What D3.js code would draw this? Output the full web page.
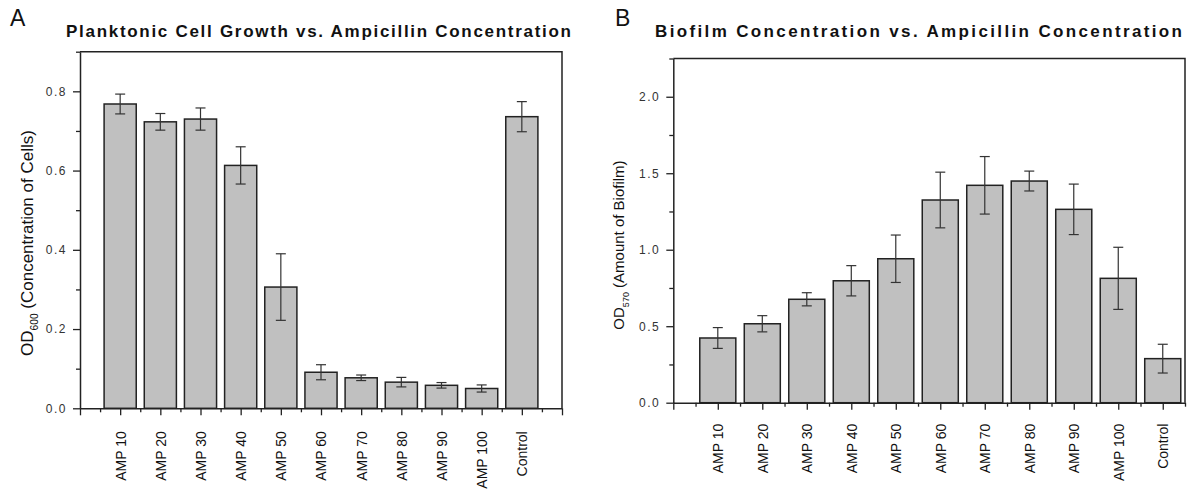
<!DOCTYPE html>
<html>
<head>
<meta charset="utf-8">
<script src="https://cdn.jsdelivr.net/npm/d3@7"></script>
<style>
  body { margin: 0; background: #fff; }
  svg { display: block; font-family: "Liberation Sans", Arial, sans-serif; }
</style>
</head>
<body>
<div id="chart"></div>
<script>
// data
const categories = ["AMP 10", "AMP 20", "AMP 30", "AMP 40", "AMP 50", "AMP 60", "AMP 70", "AMP 80", "AMP 90", "AMP 100", "Control"];
const planktonicMeans = [0.768, 0.723, 0.730, 0.613, 0.306, 0.091, 0.077, 0.066, 0.058, 0.050, 0.736];
const planktonicErr = [0.025, 0.021, 0.028, 0.047, 0.084, 0.019, 0.007, 0.012, 0.007, 0.009, 0.038];
const biofilmMeans = [0.423, 0.516, 0.676, 0.797, 0.941, 1.325, 1.421, 1.449, 1.264, 0.813, 0.288];
const biofilmErr = [0.068, 0.053, 0.043, 0.099, 0.155, 0.182, 0.188, 0.065, 0.165, 0.203, 0.094];
const yTicksA = [0, 0.2, 0.4, 0.6, 0.8];
const yTicksB = [0, 0.5, 1.0, 1.5, 2.0];

const svg = d3.select("#chart").append("svg")
    .attr("width", 1196)
    .attr("height", 489);

function drawPanel(cfg) {
    const x = d3.scaleLinear().domain([0, cfg.xMax]).range([cfg.left, cfg.right]);
    const y = d3.scaleLinear().domain([0, cfg.yMax]).range([cfg.bottom, cfg.top]);
    const g = svg.append("g");

    // panel letter + title
    svg.append("text")
        .attr("x", cfg.letterX).attr("y", 26)
        .attr("font-size", 23)
        .attr("fill", "#111")
        .text(cfg.letter);

    svg.append("text")
        .attr("x", cfg.titleX).attr("y", 37)
        .attr("font-size", 17)
        .attr("font-weight", "bold")
        .attr("fill", "#111")
        .attr("textLength", cfg.titleW)
        .attr("lengthAdjust", "spacing")
        .text(cfg.title);

    const data = cfg.means.map((m, i) => ({ cat: categories[i], pos: i + 1, mean: m, err: cfg.errs[i] }));
    const bw = x(cfg.barFrac) - x(0);

    g.selectAll("rect.bar")
        .data(data)
        .enter().append("rect")
        .attr("class", "bar")
        .attr("x", d => x(d.pos) - bw / 2)
        .attr("y", d => y(d.mean))
        .attr("width", bw)
        .attr("height", d => y(0) - y(d.mean))
        .attr("fill", "#c0c0c0")
        .attr("stroke", "#222")
        .attr("stroke-width", 1.5);

    // error bars
    const eb = g.selectAll("g.err").data(data).enter().append("g").attr("class", "err")
        .attr("stroke", "#333").attr("stroke-width", 1.2);
    eb.append("line")
        .attr("x1", d => x(d.pos)).attr("x2", d => x(d.pos))
        .attr("y1", d => y(d.mean + d.err)).attr("y2", d => y(d.mean - d.err));
    eb.append("line")
        .attr("x1", d => x(d.pos) - cfg.cap).attr("x2", d => x(d.pos) + cfg.cap)
        .attr("y1", d => y(d.mean + d.err)).attr("y2", d => y(d.mean + d.err));
    eb.append("line")
        .attr("x1", d => x(d.pos) - cfg.cap).attr("x2", d => x(d.pos) + cfg.cap)
        .attr("y1", d => y(d.mean - d.err)).attr("y2", d => y(d.mean - d.err));

    // frame (top + right)
    g.append("path")
        .attr("d", `M${cfg.left},${cfg.top}H${cfg.right}V${cfg.bottom}`)
        .attr("fill", "none").attr("stroke", "#222").attr("stroke-width", 1.5);

    // x axis: minor + major ticks
    const xMinor = d3.range(0.5, cfg.xMax + 0.01, 1);
    const xMajor = d3.range(0, Math.floor(cfg.xMax) + 0.01, 1);

    g.append("g")
        .attr("transform", `translate(0,${cfg.bottom})`)
        .call(d3.axisBottom(x).tickValues(xMinor).tickSize(4).tickFormat(""))
        .call(a => a.select(".domain").remove())
        .call(a => a.selectAll("line").attr("stroke", "#222").attr("stroke-width", 1.3));

    const xAxis = g.append("g")
        .attr("transform", `translate(0,${cfg.bottom})`)
        .call(d3.axisBottom(x).tickValues(xMajor).tickSize(7).tickSizeOuter(0)
            .tickFormat(v => (v >= 1 && v <= categories.length) ? categories[v - 1] : ""));
    xAxis.select(".domain").attr("stroke", "#222").attr("stroke-width", 1.5);
    xAxis.selectAll("line").attr("stroke", "#222").attr("stroke-width", 1.3);
    xAxis.selectAll("text")
        .attr("transform", "rotate(-90)")
        .attr("text-anchor", "end")
        .attr("x", -cfg.labelGap)
        .attr("y", 0)
        .attr("dy", "0.35em")
        .attr("font-size", 14)
        .attr("fill", "#111");

    // y axis: minor + major ticks
    g.append("g")
        .attr("transform", `translate(${cfg.left},0)`)
        .call(d3.axisLeft(y).tickValues(cfg.yMinor).tickSize(4).tickFormat(""))
        .call(a => a.select(".domain").remove())
        .call(a => a.selectAll("line").attr("stroke", "#222").attr("stroke-width", 1.3));

    const yAxis = g.append("g")
        .attr("transform", `translate(${cfg.left},0)`)
        .call(d3.axisLeft(y).tickValues(cfg.yTicks).tickSize(7).tickSizeOuter(0)
            .tickPadding(6).tickFormat(d3.format(".1f")));
    yAxis.select(".domain").attr("stroke", "#222").attr("stroke-width", 1.5);
    yAxis.selectAll("line").attr("stroke", "#222").attr("stroke-width", 1.3);
    yAxis.selectAll("text")
        .attr("font-size", 12)
        .attr("letter-spacing", "1.5px")
        .attr("fill", "#333");

    // y title with subscript
    const yt = svg.append("text")
        .attr("transform", `translate(${cfg.yTitleX},${cfg.yTitleY}) rotate(-90)`)
        .attr("text-anchor", "middle")
        .attr("font-size", cfg.yTitleSize)
        .attr("fill", "#111");
    yt.append("tspan").text("OD");
    yt.append("tspan").attr("font-size", cfg.yTitleSize * 0.6).attr("dy", cfg.yTitleSize * 0.3).text(cfg.sub);
    yt.append("tspan").attr("dy", -cfg.yTitleSize * 0.3).text(" " + cfg.yTitleRest);
}

drawPanel({
    letter: "A", letterX: 10,
    title: "Planktonic Cell Growth vs. Ampicillin Concentration", titleX: 66, titleW: 505,
    left: 80, right: 562, top: 51.7, bottom: 408.3,
    xMax: 12, yMax: 0.9, barFrac: 0.8, cap: 5,
    means: planktonicMeans, errs: planktonicErr,
    yTicks: yTicksA, yMinor: [0.1, 0.3, 0.5, 0.7, 0.9],
    labelGap: 23,
    yTitleX: 33, yTitleY: 243, yTitleSize: 17,
    sub: "600", yTitleRest: "(Concentration of Cells)"
});

drawPanel({
    letter: "B", letterX: 615,
    title: "Biofilm Concentration vs. Ampicillin Concentration", titleX: 655, titleW: 527,
    left: 673.3, right: 1185, top: 58.5, bottom: 402.7,
    xMax: 11.5, yMax: 2.25, barFrac: 0.81, cap: 5,
    means: biofilmMeans, errs: biofilmErr,
    yTicks: yTicksB, yMinor: [0.25, 0.75, 1.25, 1.75, 2.25],
    labelGap: 21,
    yTitleX: 624, yTitleY: 245, yTitleSize: 15,
    sub: "570", yTitleRest: "(Amount of Biofilm)"
});
</script>
</body>
</html>
